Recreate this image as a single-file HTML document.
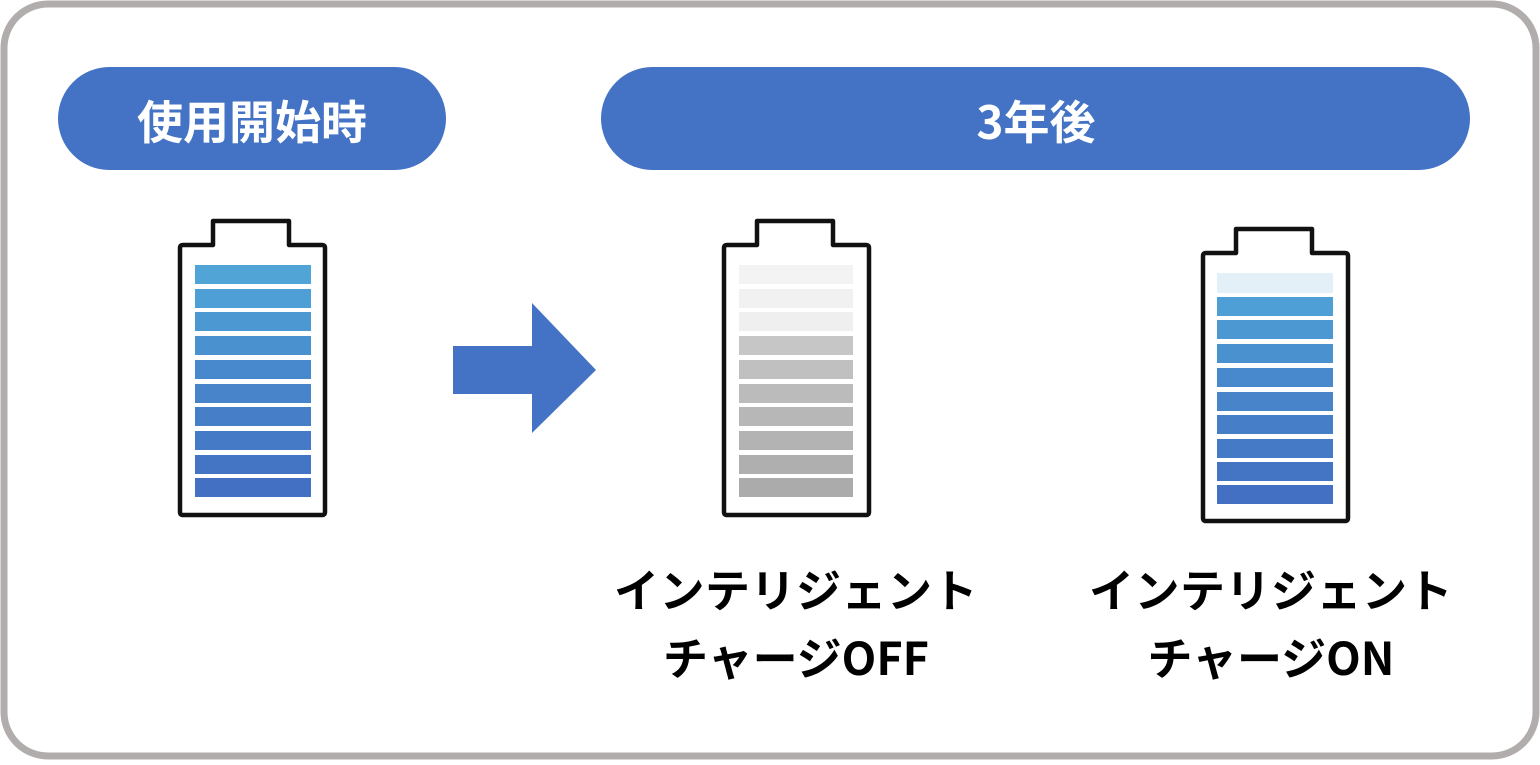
<!DOCTYPE html>
<html><head><meta charset="utf-8"><style>
html,body{margin:0;padding:0;background:#fff;}
svg text{font-family:"Noto Sans CJK JP","Liberation Sans",sans-serif;font-weight:700;}
</style></head><body>
<svg width="1540" height="760" viewBox="0 0 1540 760" xmlns="http://www.w3.org/2000/svg">
<rect x="4" y="4" width="1532" height="752" rx="44" fill="#fff" stroke="#b1adac" stroke-width="7"/>
<rect x="58" y="67" width="388" height="103" rx="51.5" fill="#4473c5"/>
<text x="252" y="139" font-size="46" fill="#fff" text-anchor="middle">使用開始時</text>
<rect x="601" y="67" width="869" height="103" rx="51.5" fill="#4473c5"/>
<text x="1036" y="139" font-size="46" fill="#fff" text-anchor="middle">3年後</text>
<polygon points="453,346 532,346 532,303 596,370 532,433 532,394 453,394" fill="#4473c5"/>

<g fill="none" stroke="#111" stroke-width="4.5" stroke-linejoin="round">
<path d="M183,245 L213,245 L213,221 L289,221 L289,245 L322,245 Q325,245 325,248 L325,512 Q325,515 322,515 L183,515 Q180,515 180,512 L180,248 Q180,245 183,245 Z"/>
<path d="M727,245 L757,245 L757,221 L833,221 L833,245 L866,245 Q869,245 869,248 L869,512 Q869,515 866,515 L727,515 Q724,515 724,512 L724,248 Q724,245 727,245 Z"/>
<path d="M1206,253 L1236,253 L1236,229 L1312,229 L1312,253 L1345,253 Q1348,253 1348,256 L1348,518 Q1348,521 1345,521 L1206,521 Q1203,521 1203,518 L1203,256 Q1203,253 1206,253 Z"/>
</g>
<g>
<rect x="195" y="265" width="116" height="19" fill="#50a4d6"/>
<rect x="195" y="289" width="116" height="19" fill="#4e9fd5"/>
<rect x="195" y="312" width="116" height="19" fill="#4c98d2"/>
<rect x="195" y="336" width="116" height="19" fill="#4a91cf"/>
<rect x="195" y="360" width="116" height="19" fill="#4789cc"/>
<rect x="195" y="384" width="116" height="19" fill="#4884ca"/>
<rect x="195" y="407" width="116" height="19" fill="#467fc8"/>
<rect x="195" y="431" width="116" height="19" fill="#457ac7"/>
<rect x="195" y="455" width="116" height="19" fill="#4475c5"/>
<rect x="195" y="478" width="116" height="19" fill="#4470c4"/>
</g>
<g>
<rect x="739" y="265" width="114" height="19" fill="#f3f3f3"/>
<rect x="739" y="289" width="114" height="19" fill="#f1f1f1"/>
<rect x="739" y="312" width="114" height="19" fill="#efefef"/>
<rect x="739" y="336" width="114" height="19" fill="#c6c6c6"/>
<rect x="739" y="360" width="114" height="19" fill="#c0c0c0"/>
<rect x="739" y="384" width="114" height="19" fill="#bbbbbb"/>
<rect x="739" y="407" width="114" height="19" fill="#b7b7b7"/>
<rect x="739" y="431" width="114" height="19" fill="#b3b3b3"/>
<rect x="739" y="455" width="114" height="19" fill="#afafaf"/>
<rect x="739" y="478" width="114" height="19" fill="#ababab"/>
</g>
<g>
<rect x="1217" y="273" width="116" height="20" fill="#e4f0f8"/>
<rect x="1217" y="297" width="116" height="19" fill="#4e9fd5"/>
<rect x="1217" y="320" width="116" height="19" fill="#4c98d2"/>
<rect x="1217" y="344" width="116" height="19" fill="#4a91cf"/>
<rect x="1217" y="368" width="116" height="19" fill="#4789cc"/>
<rect x="1217" y="392" width="116" height="19" fill="#4884ca"/>
<rect x="1217" y="415" width="116" height="19" fill="#467fc8"/>
<rect x="1217" y="439" width="116" height="19" fill="#457ac7"/>
<rect x="1217" y="462" width="116" height="19" fill="#4475c5"/>
<rect x="1217" y="485" width="116" height="19" fill="#4470c4"/>
</g>

<text x="796" y="607" font-size="45" letter-spacing="0.5" fill="#000" text-anchor="middle">インテリジェント</text>
<text x="796" y="675" font-size="45" fill="#000" text-anchor="middle">チャージOFF</text>
<text x="1271" y="607" font-size="45" letter-spacing="0.5" fill="#000" text-anchor="middle">インテリジェント</text>
<text x="1271" y="675" font-size="45" fill="#000" text-anchor="middle">チャージON</text>
</svg>
</body></html>
